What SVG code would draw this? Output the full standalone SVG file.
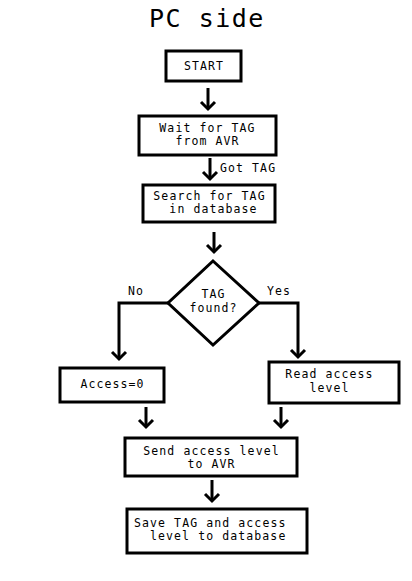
<svg xmlns="http://www.w3.org/2000/svg" width="412" height="581" viewBox="0 0 412 581">
<defs>
<marker id="arr" markerUnits="userSpaceOnUse" markerWidth="24" markerHeight="24" viewBox="-12 -12 24 24" refX="0" refY="0" orient="auto">
<path d="M-7,-7 L0,0 L-7,7" fill="none" stroke="#000" stroke-width="3"/>
</marker>
</defs>
<style>
.box{fill:#fff;stroke:#000;stroke-width:3}
.t{font-family:"DejaVu Sans Mono","Liberation Mono",monospace;font-size:11.5px;letter-spacing:1.1px;fill:#000}
.c{stroke:#000;stroke-width:3;fill:none;marker-end:url(#arr)}
</style>
<rect width="412" height="581" fill="#fff"/>
<text x="207" y="27" text-anchor="middle" font-family="DejaVu Sans Mono,Liberation Mono,monospace" font-size="25" letter-spacing="1.5">PC side</text>
<g id="connectors">
<line class="c" x1="208" y1="88" x2="208" y2="109"/>
<line class="c" x1="210" y1="158" x2="210" y2="179"/>
<text class="t" x="220" y="172">Got TAG</text>
<line class="c" x1="214" y1="232" x2="214" y2="252"/>
<polyline class="c" points="168,303 119,303 119,359"/>
<text class="t" x="128" y="295">No</text>
<polyline class="c" points="259,303 298,303 298,357"/>
<text class="t" x="267" y="295">Yes</text>
<line class="c" x1="146" y1="407" x2="146" y2="427"/>
<line class="c" x1="281" y1="407" x2="281" y2="427"/>
<line class="c" x1="212" y1="480" x2="212" y2="501"/>
</g>
<g id="start">
<rect class="box" x="166" y="51" width="75" height="30"/>
<text class="t" x="204" y="70" text-anchor="middle">START</text>
</g>
<g id="wait">
<rect class="box" x="139" y="116" width="137" height="39"/>
<text class="t" x="207.5" y="131.5" text-anchor="middle">Wait for TAG</text>
<text class="t" x="207.5" y="145" text-anchor="middle">from AVR</text>
</g>
<g id="search">
<rect class="box" x="143" y="185" width="132" height="37"/>
<text class="t" x="209.5" y="199.5" text-anchor="middle">Search for TAG</text>
<text class="t" x="213.5" y="213" text-anchor="middle">in database</text>
</g>
<g id="decision">
<polygon class="box" points="213,261 259,303 213,345 168,303"/>
<text class="t" x="213.5" y="298" text-anchor="middle">TAG</text>
<text class="t" x="213.5" y="311.5" text-anchor="middle">found?</text>
</g>
<g id="access0">
<rect class="box" x="60" y="368" width="104" height="34"/>
<text class="t" x="112.5" y="388" text-anchor="middle">Access=0</text>
</g>
<g id="read">
<rect class="box" x="269" y="362" width="130" height="41"/>
<text class="t" x="329.5" y="378" text-anchor="middle">Read access</text>
<text class="t" x="329.5" y="391.5" text-anchor="middle">level</text>
</g>
<g id="send">
<rect class="box" x="125" y="438" width="172" height="38"/>
<text class="t" x="211.5" y="454.5" text-anchor="middle">Send access level</text>
<text class="t" x="211.5" y="468" text-anchor="middle">to AVR</text>
</g>
<g id="save">
<rect class="box" x="127" y="509" width="180" height="44"/>
<text class="t" x="134" y="526.5">Save TAG and access</text>
<text class="t" x="150" y="540">level to database</text>
</g>
</svg>
